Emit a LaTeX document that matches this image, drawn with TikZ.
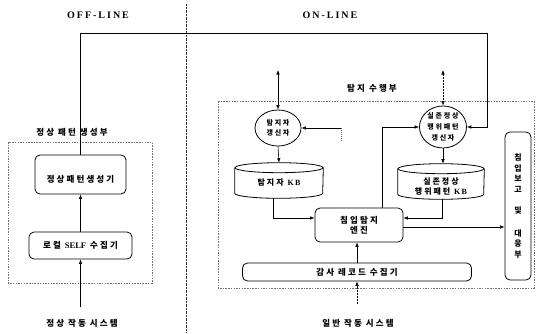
\documentclass[tikz,border=0pt]{standalone}
\usepackage{fontspec}
\setmainfont{Liberation Serif}
\newfontfamily\krs[LetterSpace=25]{Noto Sans CJK KR}
\newfontfamily\kr{Noto Sans CJK KR}
\newfontfamily\ttl[LetterSpace=20]{Liberation Serif}
\usetikzlibrary{arrows.meta,shapes.geometric}
\begin{document}
\begin{tikzpicture}[x=1pt,y=-1pt,
  >={Latex[length=4.5pt,width=3.5pt]},
  every path/.style={line width=0.6pt},
  dashbox/.style={draw=black!55, dash pattern=on 1.5pt off 1.2pt, line width=0.5pt},
  rbox/.style={draw, rounded corners=5pt, line width=0.8pt, inner sep=0pt, align=center},
  lbl/.style={font=\krs\bfseries\fontsize{8.5}{10}\selectfont, inner sep=0pt},
  inbox/.style={font=\krs\bfseries\fontsize{8.5}{10}\selectfont},
  upd/.style={draw, ellipse, line width=0.8pt, inner sep=0pt, align=center},
  kb/.style={inner sep=0pt, align=center, font=\krs\bfseries\fontsize{8}{10}\selectfont},
  title/.style={font=\ttl\bfseries\fontsize{10}{12}\selectfont, inner sep=0pt},
]
\useasboundingbox (0,0) rectangle (542,333);

% titles and divider
\node[title] (off) at (98,15) {OFF-LINE};
\node[title] (on) at (330,15) {ON-LINE};
\coordinate (dvt) at (186,4);
\coordinate (dvb) at (186,333);
\draw[line width=1pt, dash pattern=on 0.8pt off 0.6pt, black!80] (dvt) -- (dvb);

% left part
\draw[dashbox] (8,142) rectangle (152,283);
\node[lbl] (lp) at (72,132) {정상 패턴 생성부};
\node[rbox, minimum width=91pt, minimum height=39pt, inbox] (gen) at (80.5,174.5) {\rule{0pt}{16pt}정상패턴생성기};
\node[rbox, minimum width=103pt, minimum height=27pt, inbox] (loc) at (80.5,245.5) {로컬 {\rmfamily\bfseries SELF} 수집기};
\node[lbl] (nsys) at (82,323) {정상 작동 시스템};
\coordinate (s1) at (80.5,307);
\draw[->] (s1) -- (loc.south);
\draw[->] (loc.north) -- (gen.south);

% right part
\draw[dashbox] (218,101) rectangle (534,288);
\node[lbl] (rp) at (372,88) {탐지 수행부};

\node[upd, minimum width=46pt, minimum height=36pt, font=\krs\bfseries\fontsize{7}{10}\selectfont] (upd1) at (278,128) {탐지자\\갱신자};
\node[upd, minimum width=47pt, minimum height=42pt, font=\krs\bfseries\fontsize{7}{11}\selectfont] (upd2) at (443,127) {실존정상\\행위패턴\\갱신자};

\coordinate (a1) at (278,70);
\coordinate (a2) at (443,70);
\draw[<->] (a1) -- (upd1.north);
\draw[<->, dash pattern=on 2pt off 1pt] (a2) -- (upd2.north);

\coordinate (st) at (341,141);
\coordinate (stt) at (341,128);
\draw[dash pattern=on 1pt off 1pt, black!60] (st) -- (stt);
\draw[->] (stt) -- (upd1.east);

% top line
\coordinate (tr) at (487,33);
\draw[->] (gen.north) |- (tr) |- (upd2.east);

% KB cylinders
\node[kb, minimum width=88pt, minimum height=30pt] (kb1) at (279,183) {탐지자 {\rmfamily\bfseries K\,B}};
\draw[line width=0.8pt] (kb1.north west) -- ([yshift=5pt]kb1.south west) arc[start angle=180,end angle=360,x radius=44pt,y radius=5pt] -- (kb1.north east);
\draw[line width=0.8pt] (kb1.north) ellipse[x radius=44pt,y radius=5pt];

\node[kb, minimum width=86pt, minimum height=30pt] (kb2) at (441,184) {\rule{0pt}{12pt}실존정상\\행위패턴 {\rmfamily\bfseries K\,B}};
\draw[line width=0.8pt] (kb2.north west) -- ([yshift=5pt]kb2.south west) arc[start angle=180,end angle=360,x radius=43pt,y radius=5pt] -- (kb2.north east);
\draw[line width=0.8pt] (kb2.north) ellipse[x radius=43pt,y radius=5pt];

\draw[->] (upd1.south) -- ([yshift=5pt]kb1.north);
\draw[->] (upd2.south) -- ([yshift=5pt]kb2.north -| upd2.south);

% engine
\node[rbox, minimum width=88pt, minimum height=34pt, font=\krs\bfseries\fontsize{8.5}{10.5}\selectfont] (eng) at (359,225) {침입탐지\\엔진};
\draw[->] ([xshift=-6pt]kb1.south) |- ([yshift=7pt]eng.west);
\draw[->] ([xshift=1pt]kb2.south) |- ([yshift=7pt]eng.east);
\draw[->] ([xshift=23pt]eng.north) |- (upd2.west);

% report
\node[rbox, minimum width=26pt, minimum height=148pt, font=\kr\bfseries\fontsize{8}{10.5}\selectfont] (rep) at (518,206) {침\\입\\보\\고\\[11pt]및\\[12pt]대\\응\\부};
\draw[->] ([yshift=-2pt]eng.east) -- ([yshift=-2pt]eng.east -| rep.west);

% audit
\node[rbox, minimum width=229pt, minimum height=18pt, inbox] (aud) at (357,272) {감사 레코드 수집기};
\draw[->] (aud.north) -- (aud.north |- eng.south);
\coordinate (s2) at (357,304);
\draw[->, dash pattern=on 2pt off 1pt] (s2) -- (aud.south);
\node[lbl] (gsys) at (358,323) {일반 작동 시스템};
\end{tikzpicture}
\end{document}
